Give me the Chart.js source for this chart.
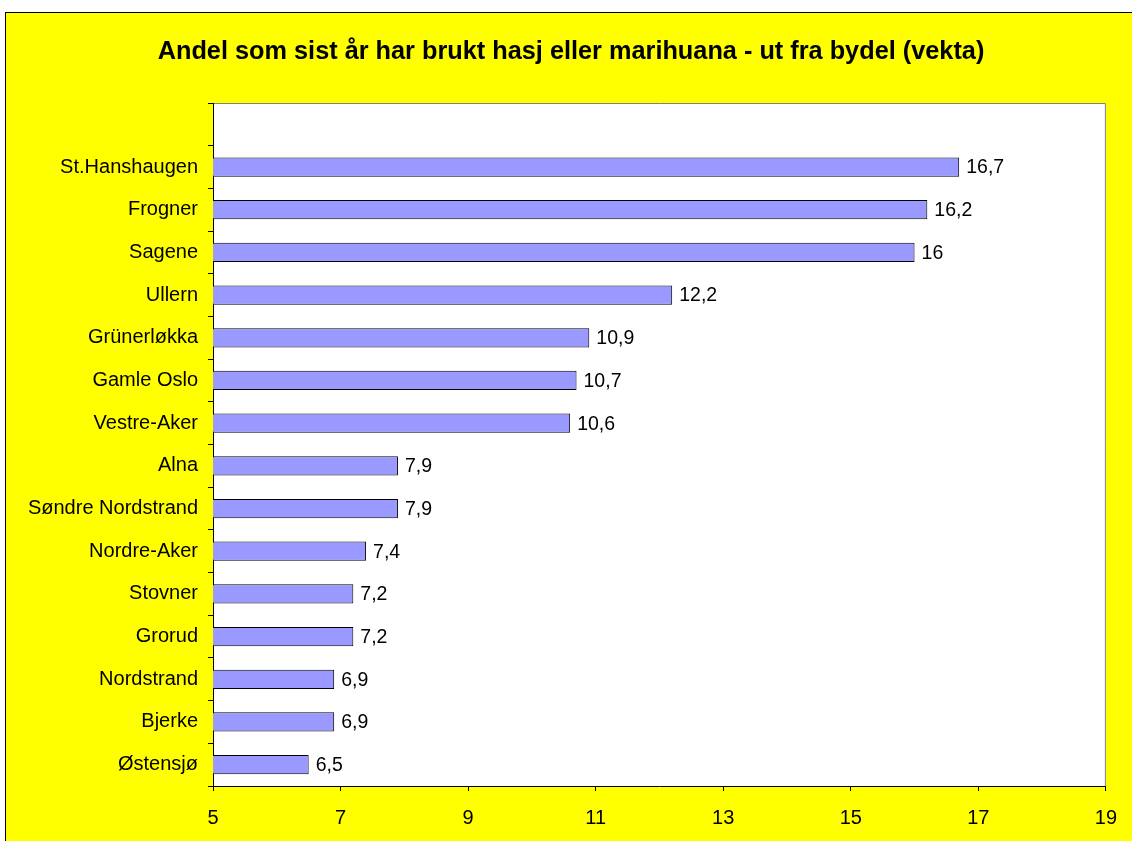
<!DOCTYPE html>
<html>
<head>
<meta charset="utf-8">
<script src="https://cdn.jsdelivr.net/npm/chart.js@4"></script>
<style>
    body { margin: 0; background: #fff; overflow: hidden; }
    #frame { position: absolute; left: 5px; top: 12px; width: 1200px; height: 900px; background: #ffff00; border: 1px solid #000; }
    #wrap { position: absolute; left: 0; top: 0; width: 1132px; height: 841px; }
</style>
</head>
<body>
<div id="frame"></div>
<div id="wrap"><canvas id="chart"></canvas></div>
<script>
// Data
const districts = ['St.Hanshaugen', 'Frogner', 'Sagene', 'Ullern', 'Grünerløkka', 'Gamle Oslo', 'Vestre-Aker',
    'Alna', 'Søndre Nordstrand', 'Nordre-Aker', 'Stovner', 'Grorud', 'Nordstrand', 'Bjerke', 'Østensjø'];
const values = [16.7, 16.2, 16, 12.2, 10.9, 10.7, 10.6, 7.9, 7.9, 7.4, 7.2, 7.2, 6.9, 6.9, 6.5];
const xTicks = [5, 7, 9, 11, 13, 15, 17, 19];
const titleText = 'Andel som sist år har brukt hasj eller marihuana - ut fra bydel (vekta)';

const FONT = "'Liberation Sans', Arial, sans-serif";

// Excel leaves an empty slot above the first category
const labels = [''].concat(districts);
const data = [null].concat(values);

// White plot area with grey top/right edge
const plotArea = {
    id: 'plotArea',
    beforeDraw(chart) {
        const { ctx, chartArea: a } = chart;
        ctx.save();
        ctx.fillStyle = '#fff';
        ctx.fillRect(a.left, a.top, a.right - a.left, a.bottom - a.top);
        ctx.strokeStyle = '#808080';
        ctx.lineWidth = 1;
        ctx.beginPath();
        ctx.moveTo(a.left, a.top + 0.5);
        ctx.lineTo(a.right - 0.5, a.top + 0.5);
        ctx.lineTo(a.right - 0.5, a.bottom);
        ctx.stroke();
        ctx.restore();
    }
};

// Title centred on the yellow frame rather than the canvas
const chartTitle = {
    id: 'chartTitle',
    afterDraw(chart) {
        const { ctx } = chart;
        ctx.save();
        ctx.font = 'bold 25.3px ' + FONT;
        ctx.fillStyle = '#000';
        ctx.textAlign = 'center';
        ctx.textBaseline = 'middle';
        ctx.fillText(titleText, (chart.width + 10) / 2, 52);
        ctx.restore();
    }
};

// Value labels at bar ends, Norwegian decimal comma
const valueLabels = {
    id: 'valueLabels',
    afterDatasetsDraw(chart) {
        const { ctx } = chart;
        const meta = chart.getDatasetMeta(0);
        ctx.save();
        ctx.font = '19.5px ' + FONT;
        ctx.fillStyle = '#000';
        ctx.textAlign = 'left';
        ctx.textBaseline = 'middle';
        meta.data.forEach((bar, i) => {
            const v = data[i];
            if (v == null) return;
            ctx.fillText(String(v).replace('.', ','), bar.x + 7, bar.y + 1);
        });
        ctx.restore();
    }
};

new Chart(document.getElementById('chart'), {
    type: 'bar',
    data: {
        labels: labels,
        datasets: [{
            data: data,
            backgroundColor: '#9999ff',
            borderColor: '#000',
            borderWidth: 1,
            borderSkipped: false,
            categoryPercentage: 1,
            barPercentage: 0.45
        }]
    },
    options: {
        indexAxis: 'y',
        responsive: true,
        maintainAspectRatio: false,
        animation: false,
        layout: { padding: { top: 103, right: 26 } },
        plugins: {
            legend: { display: false },
            tooltip: { enabled: false },
            title: { display: false }
        },
        scales: {
            x: {
                min: 5,
                max: 19,
                afterBuildTicks: (scale) => { scale.ticks = xTicks.map(v => ({ value: v })); },
                afterFit: (scale) => { scale.height = 55; },
                grid: { drawOnChartArea: false, color: '#000', tickLength: 5 },
                border: { color: '#000', width: 1 },
                ticks: { color: '#000', padding: 15, font: { family: FONT, size: 20 } }
            },
            y: {
                afterFit: (scale) => { scale.width = 213; },
                grid: { drawOnChartArea: false, color: '#000', tickLength: 5, offset: true },
                border: { color: '#000', width: 1 },
                ticks: { color: '#000', padding: 10, autoSkip: false, font: { family: FONT, size: 20 } }
            }
        }
    },
    plugins: [plotArea, valueLabels, chartTitle]
});
</script>
</body>
</html>
